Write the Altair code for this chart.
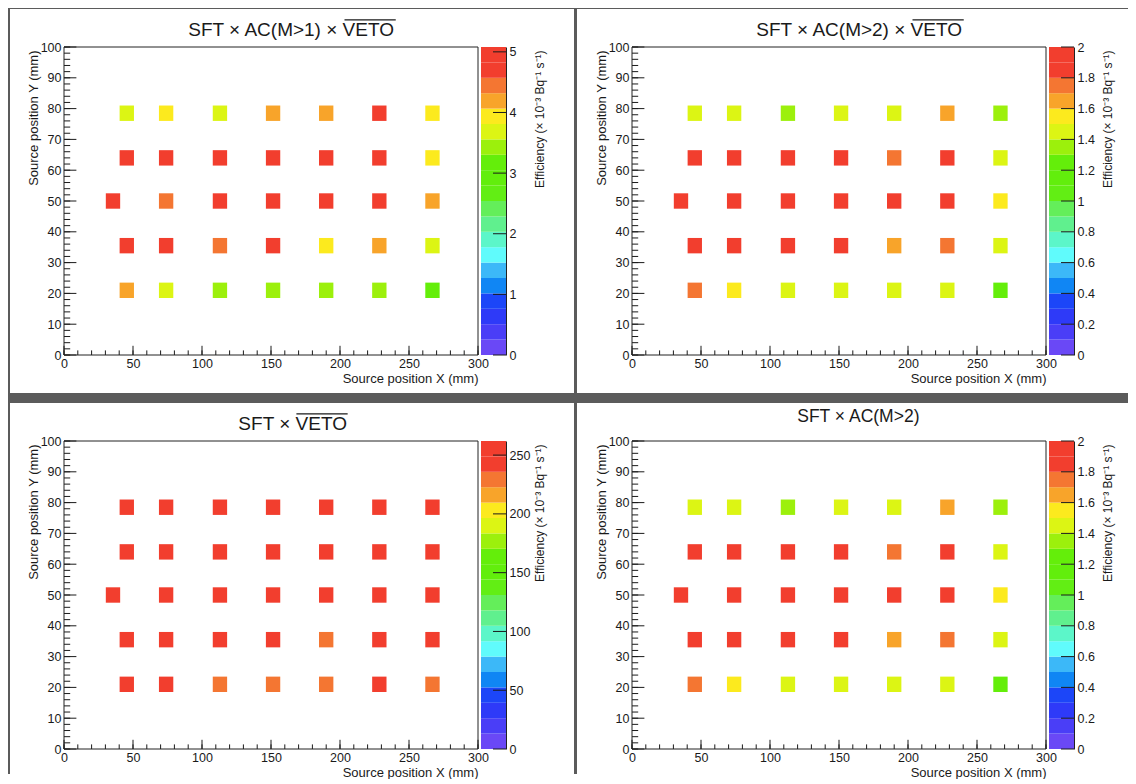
import altair as alt
import pandas as pd

FONT = "Liberation Sans"
INK = "#1a1a1a"

# ---------------- data ----------------
rows_y = [78.5, 64, 50, 35.5, 21]
cols_x = [45.5, 74, 113, 151.5, 190, 228.5, 267]
cols_x_mid = [35.5, 74, 113, 151.5, 190, 228.5, 267]   # row at y = 50

eff_p1 = [
    [3.70, 3.95, 3.70, 4.20, 4.20, 4.85, 3.95],
    [4.90, 4.80, 4.90, 4.85, 4.90, 4.95, 3.95],
    [5.08, 4.50, 4.90, 4.95, 4.85, 4.90, 4.20],
    [4.80, 4.85, 4.50, 4.75, 3.95, 4.20, 3.70],
    [4.20, 3.70, 3.45, 3.45, 3.45, 3.45, 3.20],
]
eff_p2 = [
    [1.45, 1.45, 1.35, 1.45, 1.45, 1.65, 1.35],
    [1.90, 1.88, 1.92, 1.85, 1.75, 1.90, 1.45],
    [2.00, 1.90, 1.92, 1.88, 1.90, 1.86, 1.55],
    [1.90, 1.92, 1.88, 1.85, 1.65, 1.75, 1.45],
    [1.75, 1.55, 1.45, 1.45, 1.45, 1.45, 1.25],
]
eff_p3 = [
    [255, 250, 252, 254, 250, 256, 248],
    [252, 255, 258, 256, 251, 257, 247],
    [262, 255, 257, 258, 254, 256, 249],
    [250, 252, 254, 250, 230, 248, 245],
    [240, 241, 230, 231, 229, 240, 228],
]
eff_p4 = [
    [1.45, 1.45, 1.35, 1.45, 1.45, 1.65, 1.35],
    [1.90, 1.88, 1.92, 1.85, 1.75, 1.90, 1.45],
    [2.00, 1.90, 1.92, 1.88, 1.90, 1.86, 1.55],
    [1.90, 1.92, 1.88, 1.85, 1.65, 1.75, 1.45],
    [1.75, 1.55, 1.45, 1.45, 1.45, 1.45, 1.25],
]

zmax = [5.08, 2.0, 262.0, 2.0]
zticks = [
    [0, 1, 2, 3, 4, 5],
    [0, 0.2, 0.4, 0.6, 0.8, 1, 1.2, 1.4, 1.6, 1.8, 2],
    [0, 50, 100, 150, 200, 250],
    [0, 0.2, 0.4, 0.6, 0.8, 1, 1.2, 1.4, 1.6, 1.8, 2],
]
zformat = ["d", ".1~f", "d", ".1~f"]

# title text: (prefix, overlined part)
titles = [
    ("SFT × AC(M>1) × ", "VETO"),
    ("SFT × AC(M>2) × ", "VETO"),
    ("SFT × ", "VETO"),
    ("SFT × AC(M>2)", ""),
]

# 20-level palette (bottom -> top)
palette = [
    "#6a48f6", "#4a3ef7", "#2e3af8", "#1c46f8", "#1086f4", "#3cb8f8",
    "#60fbfc", "#5cf6c9", "#60f08e", "#64ee5a", "#62ee14", "#62ee0c",
    "#64ee0a", "#9cf00c", "#dcf514", "#fcea1e", "#f8a42a", "#f47632",
    "#f23e2e", "#f23e2e",
]

x_major = [0, 50, 100, 150, 200, 250, 300]
x_minor = list(range(0, 301, 10))
y_major = [0, 10, 20, 30, 40, 50, 60, 70, 80, 90, 100]
y_minor = list(range(0, 101, 2))

W, H = 414, 308
BIN_W, BIN_H = 10.4, 5.0

# Arial / Liberation Sans advance widths (em)
ADV = {"S": .667, "F": .611, "T": .611, " ": .278, "×": .584, "A": .667, "C": .722,
       "(": .333, ")": .333, "M": .833, ">": .584, "1": .556, "2": .556,
       "V": .667, "E": .667, "O": .778}


def em(s):
    return sum(ADV.get(c, .556) for c in s)


# cell geometry relative to plot origin: gray box, white box, title centre x / baseline y / size
geoms = [
    dict(g=(-56, 512, -39, 351), w=(-54, 510, -38, 346), t=(228, -11, 19)),
    dict(g=(-56, 496, -39, 351), w=(-55, 496, -38, 346), t=(228, -11, 19)),
    dict(g=(-56, 512, -43, 333), w=(-54, 510, -38, 333), t=(229, -11, 19)),
    dict(g=(-56, 496, -43, 333), w=(-55, 496, -38, 333), t=(227, -19, 17.5)),
]


def panel(i, vals):
    geo = geoms[i]
    zm = zmax[i]
    recs = []
    for r, yv in enumerate(rows_y):
        xs = cols_x_mid if yv == 50 else cols_x
        for c, xv in enumerate(xs):
            recs.append({"x": xv, "y": yv, "eff": vals[r][c]})
    df = pd.DataFrame(recs)

    cscale = alt.Scale(type="quantize", domain=[0, zm], range=palette, nice=False)
    xsc = alt.Scale(domain=[0, 300], nice=False, zero=False)
    ysc = alt.Scale(domain=[0, 100], nice=False, zero=False)
    zsc = alt.Scale(domain=[0, zm], nice=False, zero=False)
    one = pd.DataFrame({"a": [0]})

    x_axis = alt.Axis(
        values=x_major, ticks=False, domain=False, grid=False, labelPadding=2,
        labelFlush=False, title="Source position X (mm)", titleX=W, titleY=27,
        titleAlign="right", titleBaseline="alphabetic", zindex=2)
    y_axis = alt.Axis(
        values=y_major, ticks=False, domain=False, grid=False, labelPadding=3,
        labelFlush=False, title="Source position Y (mm)", titleX=-31, titleY=3,
        titleAngle=270, titleAlign="right", titleBaseline="middle", zindex=2)
    z_axis = alt.Axis(
        orient="right", offset=28, values=zticks[i], ticks=False, domain=True,
        domainColor="#222222", grid=False, labelPadding=3, labelFlush=False,
        format=zformat[i], title="Efficiency (× 10⁻³ Bq⁻¹ s⁻¹)", titleFontSize=12,
        titleAngle=270, titleAlign="right", titleX=33, titleY=3,
        titleBaseline="middle", zindex=2)

    gx0, gx1, gy0, gy1 = geo["g"]
    wx0, wx1, wy0, wy1 = geo["w"]
    tx, ty, ts = geo["t"]

    gray = alt.Chart(one).mark_rect(color="#5b5b5b").encode(
        x=alt.value(gx0), x2=alt.value(gx1), y=alt.value(gy0), y2=alt.value(gy1))
    white = alt.Chart(one).mark_rect(color="#ffffff").encode(
        x=alt.value(wx0), x2=alt.value(wx1), y=alt.value(wy0), y2=alt.value(wy1))

    pre, over = titles[i]
    total = (em(pre) + em(over)) * ts
    left = tx - total / 2
    split = left + em(pre) * ts
    layers_title = [alt.Chart(one).mark_text(
        text=pre + over, font=FONT, fontSize=ts, align="left",
        baseline="alphabetic", color=INK).encode(x=alt.value(left), y=alt.value(ty))]
    if over:
        oy = ty - 0.716 * ts - 2.5
        layers_title.append(alt.Chart(one).mark_rule(color=INK, strokeWidth=1.3).encode(
            x=alt.value(split + 0.5), x2=alt.value(split + em(over) * ts),
            y=alt.value(oy)))

    heat = alt.Chart(df).transform_calculate(
        x1=f"datum.x - {BIN_W / 2}", x2=f"datum.x + {BIN_W / 2}",
        y1=f"datum.y - {BIN_H / 2}", y2=f"datum.y + {BIN_H / 2}",
    ).mark_rect().encode(
        x=alt.X("x1:Q", scale=xsc, axis=x_axis),
        x2="x2:Q",
        y=alt.Y("y1:Q", scale=ysc, axis=y_axis),
        y2="y2:Q",
        color=alt.Color("eff:Q", scale=cscale, legend=None),
    )
    yt1 = alt.Chart(pd.DataFrame({"v": y_major})).mark_rule(color=INK).encode(
        y=alt.Y("v:Q", scale=ysc, axis=y_axis), x=alt.value(0), x2=alt.value(12.4))
    yt2 = alt.Chart(pd.DataFrame({"v": y_minor})).mark_rule(color=INK).encode(
        y=alt.Y("v:Q", scale=ysc, axis=y_axis), x=alt.value(0), x2=alt.value(6.2))
    xt1 = alt.Chart(pd.DataFrame({"v": x_major})).mark_rule(color=INK).encode(
        x=alt.X("v:Q", scale=xsc, axis=x_axis), y=alt.value(H), y2=alt.value(H - 9.2))
    xt2 = alt.Chart(pd.DataFrame({"v": x_minor})).mark_rule(color=INK).encode(
        x=alt.X("v:Q", scale=xsc, axis=x_axis), y=alt.value(H), y2=alt.value(H - 4.6))
    frame = alt.Chart(one).mark_rect(fillOpacity=0, stroke="#222222", strokeWidth=1).encode(
        x=alt.value(0), x2=alt.value(W), y=alt.value(0), y2=alt.value(H))

    n = len(palette)
    cb_df = pd.DataFrame({
        "lo": [zm * k / n for k in range(n)],
        "hi": [zm * (k + 1) / n for k in range(n)],
        "mid": [zm * (k + 0.5) / n for k in range(n)],
    })
    cb = alt.Chart(cb_df).mark_rect().encode(
        x=alt.value(W + 3), x2=alt.value(W + 28),
        y=alt.Y("lo:Q", scale=zsc, axis=z_axis),
        y2="hi:Q",
        color=alt.Color("mid:Q", scale=cscale, legend=None),
    )
    cbt = alt.Chart(pd.DataFrame({"v": zticks[i]})).mark_rule(color=INK).encode(
        y=alt.Y("v:Q", scale=zsc, axis=z_axis), x=alt.value(W + 15), x2=alt.value(W + 28))

    return alt.layer(
        gray, white, *layers_title,
        alt.layer(heat, yt1, yt2, xt1, xt2, frame),
        alt.layer(cb, cbt),
    ).resolve_scale(y="independent").properties(width=W, height=H)


p = [panel(i, v) for i, v in enumerate([eff_p1, eff_p2, eff_p3, eff_p4])]

chart = alt.vconcat(
    alt.hconcat(p[0], p[1], spacing=0).resolve_scale(color="independent"),
    alt.hconcat(p[2], p[3], spacing=0).resolve_scale(color="independent"),
    spacing=0,
).resolve_scale(color="independent").properties(padding=0, background="white").configure(
    font=FONT,
).configure_view(stroke=None).configure_axis(
    labelFont=FONT, titleFont=FONT, labelFontSize=12.5, titleFontSize=13,
    labelColor=INK, titleColor=INK, titleFontWeight="normal", zindex=2,
)

chart.save("out.html", embed_options={"renderer": "svg", "actions": False})
